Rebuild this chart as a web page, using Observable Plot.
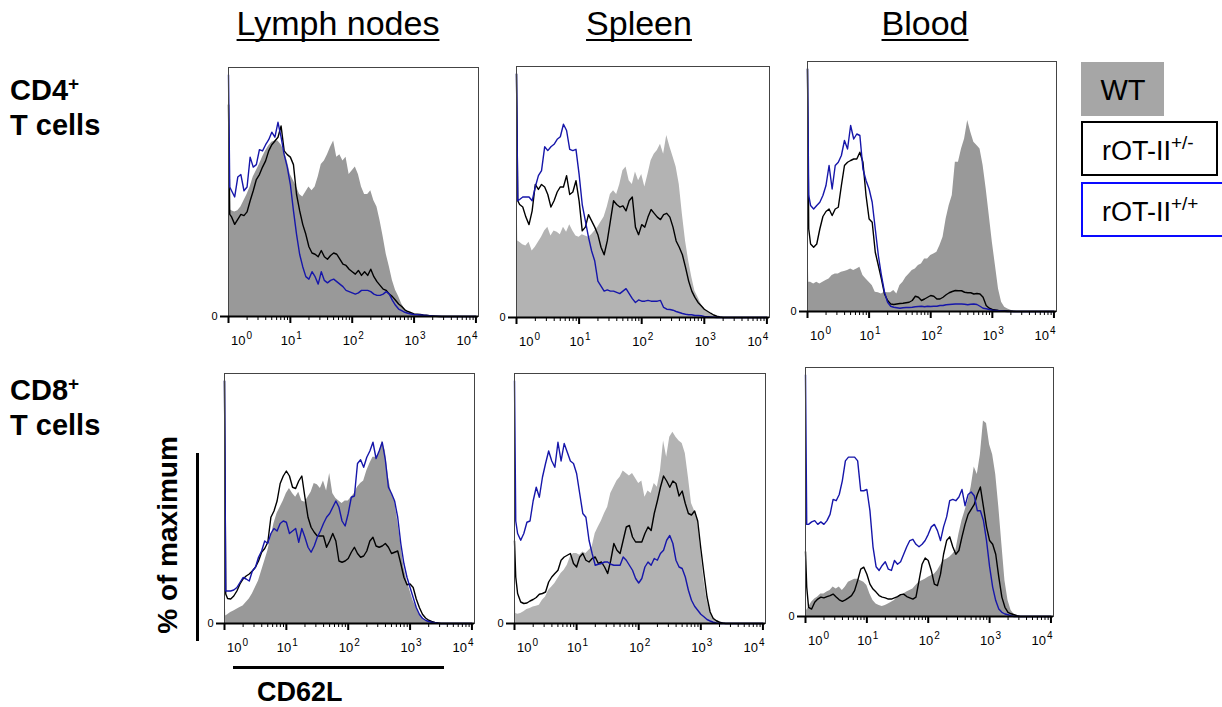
<!DOCTYPE html>
<html><head><meta charset="utf-8">
<script src="https://cdn.jsdelivr.net/npm/d3@7"></script>
<script src="https://cdn.jsdelivr.net/npm/@observablehq/plot@0.6"></script>
<style>
html,body{margin:0;padding:0;background:#fff;}
#wrap{position:relative;width:1222px;height:707px;overflow:hidden;font-family:"Liberation Sans",Arial,sans-serif;}
</style></head><body><div id="wrap"></div>
<script>
// ---- data ----
const decades = [0, 0.02, 0.05, 0.1, 0.15, 0.2, 0.25, 0.3, 0.35, 0.4, 0.45, 0.5, 0.55, 0.6, 0.65, 0.7, 0.75, 0.8, 0.85, 0.9, 0.95, 1, 1.05, 1.1, 1.15, 1.2, 1.25, 1.3, 1.35, 1.4, 1.45, 1.5, 1.55, 1.6, 1.65, 1.7, 1.75, 1.8, 1.85, 1.9, 1.95, 2, 2.05, 2.1, 2.15, 2.2, 2.25, 2.3, 2.35, 2.4, 2.45, 2.5, 2.55, 2.6, 2.65, 2.7, 2.75, 2.8, 2.85, 2.9, 2.95, 3, 3.05, 3.1, 3.15, 3.2, 3.25, 3.3, 3.35, 3.4, 3.45, 3.5, 4];
const tissues = ["Lymph nodes", "Spleen", "Blood"];
const cellTypes = ["CD4", "CD8"];
const groups = ["WT", "rOT-II", "rOT-II"];
const groupSup = ["", "+/-", "+/+"];
const majorTicks = [1, 10, 100, 1000, 10000];
const minorTicks = [2,3,4,5,6,7,8,9,20,30,40,50,60,70,80,90,200,300,400,500,600,700,800,900,2000,3000,4000,5000,6000,7000,8000,9000];
const tickBase = "10";
const tickExp = ["0", "1", "2", "3", "4"];

const lnCD4_WT = [60, 43, 42.5, 42, 42.5, 44, 46.5, 49, 52, 56,
 58.5, 61, 64, 66.5, 68.5, 70, 70.5, 70.5, 69, 66.5,
 62.5, 57, 54.5, 52, 49, 48, 50, 52, 50.5, 52,
 56, 61, 62.5, 65, 68, 70.5, 64, 65, 62.5, 64,
 57, 58.5, 60, 57, 52, 49, 49, 50.5, 46.5, 44,
 38.5, 32, 25, 20, 14.5, 10.5, 8, 5, 3, 1.7,
 1, 0.7, 0.5, 0.3, 0.2, 0, 0, 0, 0, 0, 0, 0, 0];
const lnCD4_het = [85, 41, 40, 37, 39, 41, 40.5, 42, 46.5, 50.5,
 55, 57, 60, 62.5, 66.5, 69, 70.5, 72, 76.5, 66.5,
 65, 64, 61, 49, 42.5, 37, 33, 28, 25.5, 25,
 24, 26.5, 24, 23, 24.5, 25.5, 25, 23, 21, 20.5,
 19, 18, 17, 18.5, 16.5, 18, 16.5, 19, 16, 14,
 12.5, 11, 10.5, 9, 8, 6.5, 5, 4, 2.7, 2,
 1.5, 1, 0.9, 0.8, 0.6, 0.5, 0.3, 0.2, 0.1, 0, 0, 0, 0];
const lnCD4_hom = [97, 52, 50.5, 48, 56, 57, 50.5, 52, 64, 60,
 61, 67, 66.5, 69, 71, 74, 72, 78, 72, 65,
 60, 53, 42.5, 33, 25, 20, 16, 15, 18, 16,
 13, 18, 14.5, 13.5, 14.5, 15, 14, 13, 12, 10.5,
 10, 9.5, 9, 9.5, 10.5, 10.5, 10.5, 10, 9, 8.5,
 8.5, 9, 10, 9, 6.5, 4.5, 3, 2.4, 1.7, 1.3,
 1, 0.8, 0.7, 0.6, 0.5, 0.4, 0.3, 0.2, 0.15, 0.1, 0, 0, 0];

const spCD4_WT = [66, 30.5, 30, 29, 28.5, 30, 26.5, 28, 30, 32,
 34.5, 36, 32.5, 34.5, 34, 33, 36, 34, 37, 34.5,
 32.5, 32, 33, 32.5, 32, 33, 34.5, 36, 38, 40,
 44, 49, 50.5, 49, 53, 58.5, 60, 54.5, 53, 58,
 54.5, 57, 52, 57, 62.5, 65, 66.5, 69, 65, 72.5,
 68, 64, 60, 53, 41, 30.5, 22.5, 16, 10.5, 8,
 5.3, 3.3, 2.2, 1.3, 0.8, 0.4, 0.2, 0, 0, 0, 0, 0, 0];
const spCD4_het = [97, 46.5, 45, 44, 40, 37, 42.5, 53, 51, 53,
 52, 49, 44, 46.5, 50, 52, 52, 56.5, 49, 50,
 54.5, 46.5, 34.5, 36, 41, 38.5, 36, 33, 28, 25,
 30.5, 38.5, 46.5, 45, 44, 44.5, 42.5, 46.5, 48, 36,
 33, 37, 36, 40, 43, 41.5, 40, 39, 41, 41.5,
 40, 36, 30.5, 28, 25, 20, 14.5, 10.5, 8, 6,
 4.7, 3.3, 2.5, 1.7, 1, 0.5, 0.2, 0, 0, 0, 0, 0, 0];
const spCD4_hom = [97, 46.5, 47, 48, 48, 48, 46.5, 52, 56.5, 58.5,
 68, 66.5, 68, 69, 71, 72, 77, 74.5, 67, 66.5,
 67, 57, 45, 38.5, 32, 26.5, 22.5, 14.5, 12.5, 10.5,
 11, 10.5, 10.5, 10, 9.5, 10.5, 11.5, 9.5, 7.5, 6,
 7, 6.5, 6.5, 6.8, 6.5, 6.5, 6.5, 6.8, 4, 3.3,
 3.2, 2.9, 2.4, 2, 1.6, 1.3, 1.1, 1.1, 0.8, 0.8,
 0.7, 0.4, 0.3, 0.2, 0.1, 0, 0, 0, 0, 0, 0, 0, 0];

const blCD4_WT = [40, 11.7, 11.7, 11, 11.7, 11, 11.7, 12.4, 13, 14.4,
 15, 15, 15.7, 16, 16.4, 17, 16.4, 17, 17.7, 14.4,
 13, 11.7, 10.4, 7.7, 7.5, 7, 7.7, 7.5, 7.5, 8.4,
 7, 10.4, 11.7, 13.7, 15, 16.4, 17, 18.4, 19, 21,
 21, 22.4, 23, 23.7, 26.4, 29.7, 37, 42.4, 46.4, 59.7,
 59.7, 65, 69, 76.4, 71.7, 67.7, 66.4, 65, 58.4, 49,
 38.4, 27.7, 18.4, 9, 3.7, 1.7, 1, 0.5, 0.2, 0, 0, 0, 0];
const blCD4_het = [97, 33, 27, 25.7, 27, 33, 38, 40, 41, 38.4,
 41, 41.7, 50.4, 58.4, 59.7, 60.4, 61, 61, 63.7, 59.7,
 46.4, 37, 35.7, 23.7, 18.4, 13, 7, 4.4, 3, 2.8,
 3, 3.2, 3.3, 3.5, 3.7, 4.4, 6.1, 5.7, 4.4, 5,
 5.7, 6.4, 6.1, 5, 5, 5.7, 6.7, 7.5, 8, 8.4,
 8.3, 8.3, 7.7, 7.5, 7.5, 7, 7.2, 7, 5.7, 2.4,
 1.3, 0.8, 0.6, 0.4, 0.35, 0.3, 0.2, 0.1, 0, 0, 0, 0, 0];
const blCD4_hom = [97, 46.4, 42.4, 41, 42.4, 43.7, 46.4, 50.4, 58.4, 49,
 58.4, 59.7, 62.4, 68.4, 65, 74.4, 69, 71, 70.4, 57,
 52.4, 49, 43.7, 33, 22.4, 14.4, 7.7, 3.7, 2.1, 1.7,
 1.5, 1.3, 1.5, 1.6, 1.6, 1.7, 1.9, 2, 2.1, 1.9,
 2.1, 2, 2.1, 2.1, 2.4, 2.4, 2.7, 2.8, 2.9, 3,
 3, 3, 2.9, 2.7, 2.9, 3, 2.8, 2.1, 1.3, 1.1,
 0.8, 0.5, 0.4, 0.3, 0.2, 0.1, 0, 0, 0, 0, 0, 0, 0];

const lnCD8_WT = [20, 3, 3.5, 4.4, 5, 5.7, 6.4, 7, 8.4, 9.8,
 11.8, 14.4, 17, 21, 25, 29, 34.5, 40, 44, 46.5,
 49, 52, 54, 52, 50.5, 52.5, 49, 48.5, 50.5, 52.5,
 56, 55.5, 54, 57, 53, 60, 52, 50, 49, 48,
 49, 49, 50.5, 52, 54.5, 56, 57, 61, 64, 66.5,
 66.5, 68, 73, 69, 58.5, 52, 49, 41, 32, 22.5,
 17, 13, 9, 6.4, 3.7, 2.1, 1.2, 0.7, 0.5, 0.3, 0.1, 0, 0];
const lnCD8_het = [97, 11.8, 10, 9.8, 11, 13, 15.8, 17.8, 19, 19.8,
 21, 22.5, 25, 28.5, 30, 32.5, 42.5, 45, 49, 56,
 59, 61, 59, 54.5, 54, 57, 59, 50.5, 42.5, 38.5,
 36.5, 35, 35, 35, 30.5, 33, 36, 33, 25, 24.5,
 25, 26, 28.5, 30.5, 28, 26.5, 27, 29, 33, 34.5,
 31, 30.5, 31, 32, 30.5, 28, 28.5, 29, 24, 18.5,
 15.5, 15.8, 14.4, 9.8, 6.4, 3.7, 2.2, 1.3, 0.8, 0.4, 0.2, 0, 0];
const lnCD8_hom = [97, 13, 13, 13, 13.4, 14.4, 16.4, 18.4, 17.8, 17,
 21, 22.5, 26.5, 29, 33, 32, 36, 38, 37, 40,
 41, 40.5, 36, 37, 38, 32.5, 38, 34.5, 30.5, 28.5,
 31, 34.5, 37, 40, 42.5, 44, 46.5, 49, 46.5, 41,
 39, 44, 50.5, 51, 64, 65.5, 62.5, 66.5, 69, 72.5,
 66, 69, 72.5, 65.5, 54.5, 52, 49, 42.5, 32, 24,
 18.5, 14.4, 10.4, 6.4, 3.7, 2.1, 1.3, 0.8, 0.5, 0.3, 0.1, 0, 0];

const spCD8_WT = [30, 4, 3.7, 4, 4.7, 5.6, 6, 6.6, 6.9, 7.3,
 9.3, 10.6, 13.3, 14.6, 16, 18, 20, 21.3, 23.3, 26.6,
 28, 28, 27.3, 28.6, 28, 29.3, 30.6, 36, 38.6, 41,
 44, 46.5, 52, 54.5, 57, 58.5, 61, 60, 59, 60,
 58, 56, 57, 50.5, 53, 52, 56, 54.5, 61, 73,
 66.5, 74.5, 76.5, 74.5, 73, 72, 68, 58.5, 48, 45,
 41, 29.3, 17.3, 9.3, 4.7, 2.4, 1.4, 0.7, 0.3, 0, 0, 0, 0];
const spCD8_het = [33, 18.6, 12, 8.6, 8, 8.2, 9, 9.6, 10.4, 11.7,
 12, 12.6, 16.6, 18.6, 20, 21.3, 25.3, 26.6, 27.3, 28,
 24, 22.6, 26.6, 28, 25.3, 24.6, 26, 26.6, 24, 24.6,
 22.6, 20, 25.3, 32, 29.3, 28, 33.3, 38.6, 39.2, 34.6,
 32.6, 32.6, 32.6, 36, 38.6, 37.2, 44, 49, 54.5, 59,
 57, 54.5, 57, 56, 51, 53, 48, 44, 43.4, 45,
 41, 30, 20, 10.6, 4.6, 2, 1.1, 0.5, 0.2, 0, 0, 0, 0];
const spCD8_hom = [97, 41, 36, 33.3, 36, 40.5, 41, 49, 54.5, 50.5,
 58.5, 64, 69, 65, 62.5, 72.5, 65, 72, 68.5, 65,
 64, 60, 52, 44, 42.5, 33.3, 28, 23.3, 23.7, 24,
 24.6, 24.6, 23.7, 23.3, 23.3, 23.3, 26.6, 25.3, 23.3, 21.3,
 18, 16.2, 18, 22.6, 24.6, 23.3, 26, 25.3, 28, 29.3,
 33.3, 35.2, 32, 25.3, 22.6, 22, 18.6, 13.3, 9.3, 6.9,
 5.3, 3.7, 2.7, 1.6, 1, 0.5, 0.2, 0, 0, 0, 0, 0, 0];

const blCD8_WT = [25, 2.4, 3.7, 5.7, 7, 7.8, 9, 9, 9.8, 10.4,
 11.8, 11, 11.8, 10.4, 11.8, 13.8, 14.4, 15, 15, 14.4,
 13.8, 12.4, 9, 6.4, 5, 4.4, 4, 4.4, 5, 5.7,
 6.4, 7.8, 8.4, 9, 9.8, 10.4, 11, 12.4, 13.8, 14.4,
 15, 15.8, 16.4, 17, 18.4, 20.5, 22.5, 23, 23.8, 25,
 26.5, 33, 38.5, 42.5, 46.5, 52, 60, 57, 65, 78.5,
 77.5, 69, 65, 57, 44, 29, 14.4, 6.4, 2.4, 0.8, 0.3, 0, 0];
const blCD8_het = [26, 11.8, 3.7, 3, 5.7, 7, 7.8, 7.5, 8, 8.4,
 9, 7.8, 6.7, 6.1, 6.7, 7.5, 8.4, 10.4, 14.4, 19,
 19.8, 17, 13, 11, 9.8, 8.4, 7.8, 7.5, 7, 7,
 7.5, 8, 8.8, 9, 8, 7.5, 7, 7.8, 14.4, 21,
 23.5, 22.5, 18.5, 13, 12.4, 17, 25, 30.5, 32, 28,
 25, 26.5, 32, 37, 41, 43, 45, 49, 52, 44,
 36, 30.5, 29, 25, 15.8, 7.8, 3.7, 1.7, 1.1, 0.7, 0.3, 0, 0];
const blCD8_hom = [97, 37, 37, 38, 38.5, 37, 38, 37, 38.5, 41,
 47, 46.5, 49, 54.5, 62.5, 64, 64, 64, 62.5, 50.5,
 50.5, 51, 42.5, 28, 20, 18.5, 20.5, 22, 19, 18.5,
 22.5, 21, 22, 25, 28, 30.5, 31, 29, 28, 29,
 30.5, 33, 36, 37, 34.5, 30.5, 36, 40, 46.5, 47,
 46.5, 48, 51, 44.5, 49, 50, 48.5, 42.5, 42.5, 38.5,
 30.5, 20, 11.8, 6.4, 3, 1.7, 1, 0.7, 0.3, 0, 0, 0, 0];

// ---- layout / style ----
const FONT = "'Liberation Sans', Arial, Helvetica, sans-serif";
const GRAY_DARK = "#999999", GRAY_LIGHT = "#b3b3b3";
const BLUE = "#1616aa";
const panels = [
  {wt: lnCD4_WT, het: lnCD4_het, hom: lnCD4_hom, fill: GRAY_DARK,  left: 228, top: 67, w: 250, h: 249},
  {wt: spCD4_WT, het: spCD4_het, hom: spCD4_hom, fill: GRAY_LIGHT, left: 516, top: 66, w: 253, h: 251},
  {wt: blCD4_WT, het: blCD4_het, hom: blCD4_hom, fill: GRAY_DARK,  left: 807, top: 61, w: 249, h: 250},
  {wt: lnCD8_WT, het: lnCD8_het, hom: lnCD8_hom, fill: GRAY_DARK,  left: 224, top: 373, w: 250, h: 250},
  {wt: spCD8_WT, het: spCD8_het, hom: spCD8_hom, fill: GRAY_LIGHT, left: 514, top: 373, w: 251, h: 250},
  {wt: blCD8_WT, het: blCD8_het, hom: blCD8_hom, fill: GRAY_DARK,  left: 805, top: 367, w: 248, h: 249}
];

const wrap = document.getElementById("wrap");
const lab = d => tickBase + "^" + tickExp[Math.round(Math.log10(d))];

for (const p of panels) {
  const rows = decades.map((d, i) => ({x: 10 ** d, wt: p.wt[i], het: p.het[i], hom: p.hom[i]}));
  const ml = 30, mr = 12, mt = 2, mb = 44;
  const chart = Plot.plot({
    width: p.w + ml + mr, height: p.h + mt + mb,
    marginLeft: ml, marginRight: mr, marginTop: mt, marginBottom: mb,
    x: {type: "log", domain: [1, 11000]},
    y: {domain: [0, 100]},
    style: {fontFamily: FONT, fontSize: "13px", background: "transparent", color: "#000", overflow: "visible"},
    marks: [
      Plot.areaY(rows, {x: "x", y: "wt", fill: p.fill}),
      Plot.lineY(rows, {x: "x", y: "het", stroke: "#000", strokeWidth: 1.4}),
      Plot.lineY(rows, {x: "x", y: "hom", stroke: BLUE, strokeWidth: 1.4}),
      Plot.frame({stroke: "#444", strokeWidth: 1}),
      Plot.axisY({ticks: [0], tickSize: 8, strokeWidth: 2, tickFormat: () => "", label: null}),
      Plot.axisY({ticks: [0], tickSize: 0, tickPadding: 11, tickFormat: () => "0", fontSize: 11, label: null}),
      Plot.ruleY([0], {stroke: "#000", strokeWidth: 2}),
      Plot.axisX({ticks: majorTicks, tickSize: 7, strokeWidth: 2, tickFormat: () => "", label: null}),
      Plot.axisX({ticks: minorTicks, tickSize: 4, strokeWidth: 1, tickFormat: () => "", label: null}),
      Plot.axisX({ticks: majorTicks.slice(0, 1), tickSize: 0, tickPadding: 19, dx: 13, tickFormat: lab, label: null}),
      Plot.axisX({ticks: majorTicks.slice(1, 4), tickSize: 0, tickPadding: 19, dx: 1, tickFormat: lab, label: null}),
      Plot.axisX({ticks: majorTicks.slice(4), tickSize: 0, tickPadding: 19, dx: -9, tickFormat: lab, label: null})
    ]
  });
  // render exponents as raised tspans
  chart.querySelectorAll("text").forEach(t => {
    const s = t.textContent;
    const m = /^(\d+)\^(\d)$/.exec(s);
    if (!m) return;
    while (t.firstChild) t.removeChild(t.firstChild);
    t.appendChild(document.createTextNode(m[1]));
    const sp = document.createElementNS("http://www.w3.org/2000/svg", "tspan");
    sp.setAttribute("dy", "-6");
    sp.setAttribute("dx", "1");
    sp.setAttribute("font-size", "10");
    sp.textContent = m[2];
    t.appendChild(sp);
  });
  chart.style.position = "absolute";
  chart.style.left = (p.left - ml) + "px";
  chart.style.top = (p.top - mt) + "px";
  wrap.appendChild(chart);
}

// ---- overlay texts ----
const svg = d3.select(wrap).append("svg")
  .attr("width", 1222).attr("height", 707)
  .style("position", "absolute").style("left", "0px").style("top", "0px")
  .style("font-family", FONT).style("overflow", "visible");

const titleX = [338, 639, 925];
tissues.forEach((t, i) => {
  const el = svg.append("text").attr("x", titleX[i]).attr("y", 35).attr("text-anchor", "middle")
    .attr("font-size", 34).text(t);
  const b = el.node().getBBox();
  svg.append("rect").attr("x", b.x).attr("y", 39).attr("width", b.width).attr("height", 2).attr("fill", "#000");
});

const rowY = [100, 400];
cellTypes.forEach((c, i) => {
  const t = svg.append("text").attr("x", 10).attr("y", rowY[i]).attr("font-size", 29).attr("font-weight", "bold");
  t.append("tspan").text(c);
  t.append("tspan").attr("font-size", 19).attr("dy", -10).text("+");
  svg.append("text").attr("x", 10).attr("y", rowY[i] + 35).attr("font-size", 29).attr("font-weight", "bold").text("T cells");
});

// legend
svg.append("rect").attr("x", 1081).attr("y", 62).attr("width", 83).attr("height", 54).attr("fill", "#a6a6a6");
svg.append("text").attr("x", 1123).attr("y", 100).attr("text-anchor", "middle").attr("font-size", 29).text(groups[0]);
const legendBox = [{y: 122, stroke: "#000"}, {y: 183, stroke: "#0a0aff"}];
[1, 2].forEach((g, k) => {
  const b = legendBox[k];
  svg.append("rect").attr("x", 1082).attr("y", b.y).attr("width", k === 0 ? 135 : 150).attr("height", 53)
    .attr("fill", "none").attr("stroke", b.stroke).attr("stroke-width", 2);
  const t = svg.append("text").attr("x", 1102).attr("y", b.y + 38).attr("font-size", 27);
  t.append("tspan").text(groups[g]);
  t.append("tspan").attr("font-size", 19).attr("dy", -11).text(groupSup[g]);
});

// axis titles
svg.append("text").attr("transform", "translate(177,535) rotate(-90)").attr("text-anchor", "middle")
  .attr("font-size", 28).attr("font-weight", "bold").text("% of maximum");
svg.append("rect").attr("x", 196).attr("y", 453).attr("width", 3).attr("height", 188).attr("fill", "#000");
svg.append("rect").attr("x", 233).attr("y", 666).attr("width", 211).attr("height", 3).attr("fill", "#000");
svg.append("text").attr("x", 257).attr("y", 701).attr("font-size", 27).attr("font-weight", "bold").text("CD62L");
</script></body></html>
